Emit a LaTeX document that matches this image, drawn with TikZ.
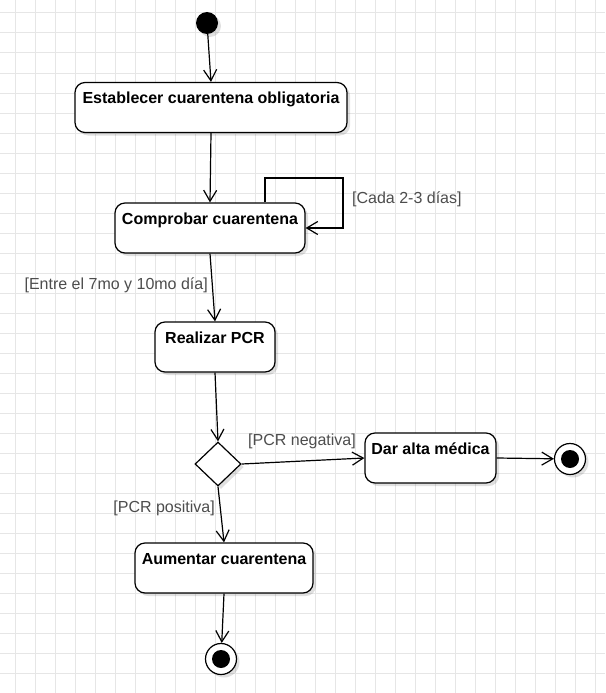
\documentclass[tikz,border=0pt]{standalone}
\usepackage{fontspec}
\setmainfont{Liberation Sans}
\usetikzlibrary{arrows.meta,shapes.geometric,shadows}

\begin{document}
\begin{tikzpicture}[x=1pt, y=-1pt,
    shadowed/.style={drop shadow={shadow xshift=3pt, shadow yshift=-3pt, opacity=0.12, fill=black}},
    action/.style={draw=black, fill=white, rounded corners=10pt, line width=1.2pt,
        inner xsep=0pt, inner ysep=0pt, text height=21pt, text depth=29pt,
        font=\fontsize{16}{19}\selectfont\bfseries, shadowed},
    startnode/.style={circle, fill=black, minimum size=22pt, inner sep=0pt, shadowed},
    finalnode/.style={circle, draw=black, fill=white, line width=1.2pt, minimum size=31pt, inner sep=0pt,
        path picture={\fill[black] (path picture bounding box.center) circle (9pt);}, shadowed},
    choice/.style={diamond, draw=black, fill=white, line width=1.2pt, minimum width=46pt,
        minimum height=44pt, inner sep=0pt, shadowed},
    flow/.style={-{Straight Barb[length=11pt,width=13pt]}, line width=1.2pt},
    guard/.style={text=guardGrey, inner sep=0pt, font=\fontsize{16}{19}\selectfont}]

    % Define colours
    \definecolor{gridColour}{HTML}{E6E6E6}
    \definecolor{guardGrey}{HTML}{4D4D4D}

    % Page and background
    \useasboundingbox (0,0) rectangle (605,693);
    \fill[white] (0,0) rectangle (605,693);

    % Draw grid
    \foreach \x in {15,35,...,595}
        \draw[gridColour, line width=1pt] (\x,0) -- (\x,693);
    \foreach \y in {13,33,...,693}
        \draw[gridColour, line width=1pt] (0,\y) -- (605,\y);

    % Start and end points
    \node[startnode] (inicio) at (207,23) {};
    \node[finalnode] (fin1) at (570,459) {};
    \node[finalnode] (fin2) at (221,659) {};

    % Actions
    \node[action, minimum width=272pt] (establecer) at (211,107.5) {Establecer cuarentena obligatoria};
    \node[action, minimum width=190pt] (comprobar) at (210,228) {Comprobar cuarentena};
    \node[action, minimum width=120pt] (pcr) at (215,347) {Realizar PCR};
    \node[action, minimum width=131pt] (alta) at (430.5,458) {Dar alta médica};
    \node[action, minimum width=178pt] (aumentar) at (224,568) {Aumentar cuarentena};

    % Decision
    \node[choice] (decision) at (218,464) {};

    % Corners of the self loop
    \coordinate (loopA) at (265,178);
    \coordinate (loopB) at (343,178);

    % Draw flows
    \draw[flow] (inicio) -- (establecer.north);
    \draw[flow] (establecer.south) -- (comprobar.north);
    \draw[flow] (comprobar.north -| loopA) -- (loopA) -- (loopB) |- (comprobar.east);
    \draw[flow] (comprobar.south) -- (pcr.north);
    \draw[flow] (pcr.south) -- (decision.north);
    \draw[flow] (decision.east) -- (alta.west);
    \draw[flow] (alta.east) -- (fin1);
    \draw[flow] (decision.south) -- (aumentar.north);
    \draw[flow] (aumentar.south) -- (fin2);

    % Guard labels
    \node[guard, anchor=west] (cada) at (352,199) {[Cada 2-3 días]};
    \node[guard, anchor=east] (entre) at (208,285) {[Entre el 7mo y 10mo día]};
    \node[guard, anchor=west] (negativa) at (248,441) {[PCR negativa]};
    \node[guard, anchor=east] (positiva) at (215,508) {[PCR positiva]};

\end{tikzpicture}
\end{document}
